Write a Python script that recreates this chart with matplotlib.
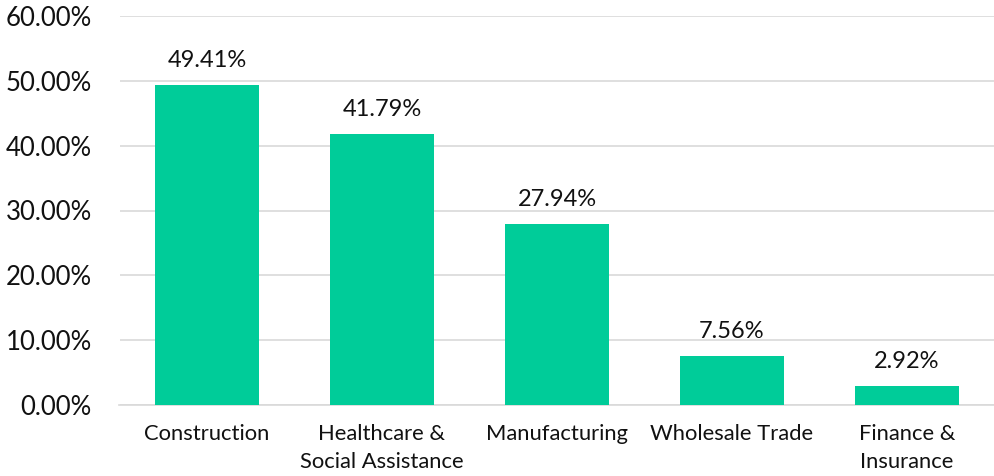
import matplotlib
matplotlib.use("Agg")
import matplotlib.pyplot as plt
from matplotlib.ticker import FuncFormatter

# data
categories = ["Construction", "Healthcare &\nSocial Assistance", "Manufacturing",
              "Wholesale Trade", "Finance &\nInsurance"]
values = [49.41, 41.79, 27.94, 7.56, 2.92]
yticks = [0, 10, 20, 30, 40, 50, 60]

plt.rcParams['font.family'] = ['Lato', 'DejaVu Sans']

fig = plt.figure(figsize=(9.94, 4.76), dpi=100)
ax = fig.add_axes([119.5 / 994, 1 - 405 / 476, 875 / 994, (405 - 16) / 476])

x = list(range(len(categories)))
bars = ax.bar(x, values, width=0.595, color="#00CC99", zorder=3)

for b, v in zip(bars, values):
    ax.annotate(f"{v:.2f}%", (b.get_x() + b.get_width() / 2, v),
                xytext=(0, 10), textcoords="offset points",
                ha="center", va="bottom", fontsize=17, color="#111111")

ax.set_xlim(-0.5, len(categories) - 0.5)
ax.set_ylim(0, 60)
ax.set_yticks(yticks)
ax.yaxis.set_major_formatter(FuncFormatter(lambda v, p: f"{v:.2f}%"))
ax.set_xticks(x)
ax.set_xticklabels(categories, fontsize=15.8, linespacing=1.5)
ax.tick_params(axis="y", labelsize=18.5, length=0, pad=20)
ax.tick_params(axis="x", length=0, pad=14)

ax.grid(axis="y", color="#d9d9d9", linewidth=1.2, zorder=0)
for s in ["top", "right", "left"]:
    ax.spines[s].set_visible(False)
ax.spines["bottom"].set_color("#d9d9d9")
ax.spines["bottom"].set_linewidth(1.2)
for lbl in ax.get_yticklabels() + ax.get_xticklabels():
    lbl.set_color("#111111")

fig.savefig("out.png", dpi=100)
